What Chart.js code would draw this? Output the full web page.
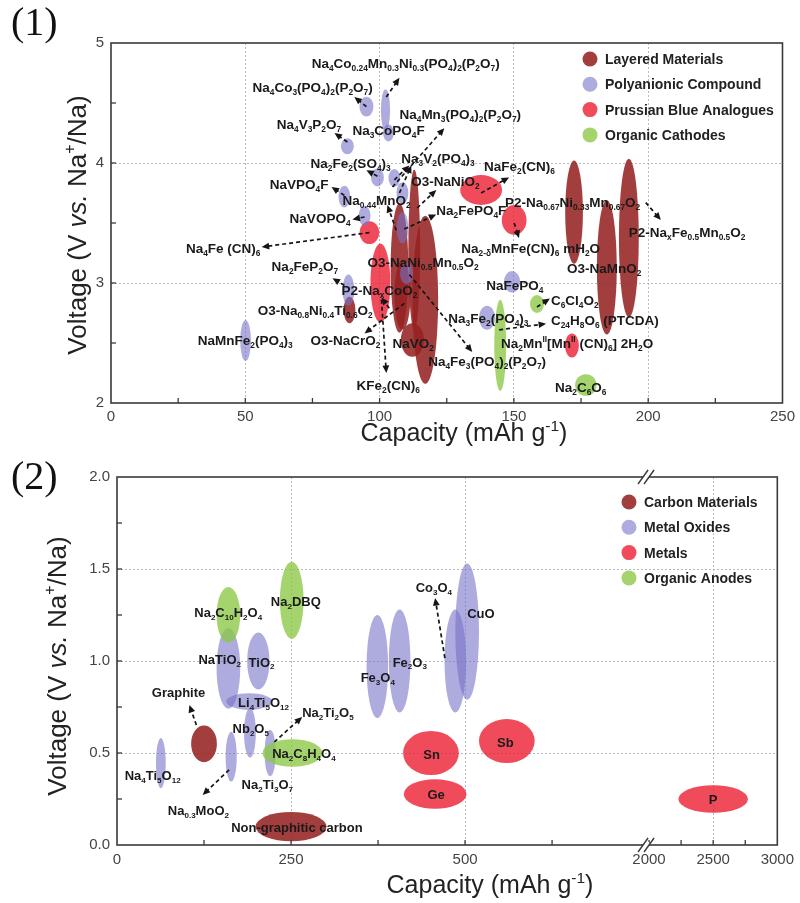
<!DOCTYPE html>
<html>
<head>
<meta charset="utf-8">
<title>Sodium-ion electrode materials: voltage vs capacity</title>
<script src="https://cdn.jsdelivr.net/npm/chart.js@4.4.1/dist/chart.umd.min.js"></script>
<style>
  html,body{margin:0;padding:0;background:#fff;}
  body{width:800px;height:903px;position:relative;overflow:hidden;}
  .panel{position:absolute;left:0;width:800px;}
  .tag{position:absolute;left:11px;font-family:"Liberation Serif","DejaVu Serif",serif;font-size:40px;line-height:1;color:#111;}
</style>
</head>
<body>
<div class="panel" style="top:0;height:450px"><canvas id="c1" width="800" height="450"></canvas></div>
<div class="panel" style="top:450px;height:453px"><canvas id="c2" width="800" height="453"></canvas></div>
<div class="tag" style="top:2px">(1)</div>
<div class="tag" style="top:456px">(2)</div>
<script>
const FONT = '"Liberation Sans", Arial, Helvetica, sans-serif';

// ================= Panel (1): cathodes =================
const cathodeSeriesNames = ['Layered Materials', 'Polyanionic Compound', 'Prussian Blue Analogues', 'Organic Cathodes'];

const layeredNames = ['O3-NaNiO2', 'P2-NaxCoO2', 'O3-NaNi0.5Mn0.5O2', 'O3-Na0.8Ni0.4Ti0.6O2', 'O3-NaCrO2', 'NaVO2', 'P2-Na0.67Ni0.33Mn0.67O2', 'O3-NaMnO2', 'P2-NaxFe0.5Mn0.5O2'];
const layeredCapacity   = [112.9, 107.4, 117.0, 88.8, 108.5, 112.2, 172.4, 184.6, 192.8];
const layeredVoltage    = [3.275, 3.125, 2.86, 2.775, 2.90, 2.525, 3.59, 3.13, 3.375];
const layeredCapSpread  = [2.2, 3.3, 4.8, 2.2, 3.0, 4.3, 3.3, 3.7, 3.7];
const layeredVoltSpread = [0.67, 0.54, 0.70, 0.11, 0.29, 0.14, 0.43, 0.56, 0.66];

const polyNames = ['Na4Co3(PO4)2(P2O7)', 'Na4Co0.24Mn0.3Ni0.3(PO4)2(P2O7)', 'Na3CoPO4F', 'Na4V3P2O7', 'Na2Fe2(SO4)3', 'Na3V2(PO4)3', 'Na4Mn3(PO4)2(P2O7)', 'NaVPO4F', 'NaVOPO4', 'Na2FePO4F', 'Na4Fe3(PO4)2(P2O7)', 'Na2FeP2O7', 'NaMnFe2(PO4)3', 'NaFePO4', 'Na3Fe2(PO4)3'];
const polyCapacity   = [95.1, 102.2, 103.3, 88.0, 99.2, 105.5, 108.5, 86.9, 94.4, 108.5, 110.0, 88.4, 50.1, 149.3, 140.0];
const polyVoltage    = [4.47, 4.44, 4.25, 4.14, 3.88, 3.875, 3.75, 3.72, 3.56, 3.46, 3.08, 2.94, 2.52, 3.01, 2.71];
const polyCapSpread  = [2.6, 1.7, 2.0, 2.4, 2.4, 2.2, 2.2, 2.2, 2.2, 2.2, 2.4, 2.2, 2.0, 3.0, 3.0];
const polyVoltSpread = [0.083, 0.175, 0.07, 0.067, 0.075, 0.075, 0.09, 0.09, 0.083, 0.13, 0.09, 0.13, 0.17, 0.09, 0.10];

const prussianNames = ['NaFe2(CN)6', 'Na2-dMnFe(CN)6 mH2O', 'Na4Fe(CN)6', 'KFe2(CN)6', 'Na2MnII[MnII(CN)6] 2H2O'];
const prussianCapacity   = [137.8, 150.1, 96.2, 100.3, 171.6];
const prussianVoltage    = [3.775, 3.525, 3.42, 3.0, 2.48];
const prussianCapSpread  = [7.8, 4.6, 3.7, 3.7, 2.6];
const prussianVoltSpread = [0.125, 0.125, 0.095, 0.33, 0.10];

const organicCathNames = ['C6Cl4O2', 'C24H8O6 (PTCDA)', 'Na2C6O6'];
const organicCathCapacity   = [158.6, 144.9, 176.8];
const organicCathVoltage    = [2.825, 2.48, 2.15];
const organicCathCapSpread  = [2.6, 2.2, 4.0];
const organicCathVoltSpread = [0.075, 0.38, 0.09];

const cathodeXTicks = [0, 50, 100, 150, 200, 250];
const cathodeYTicks = [2, 3, 4, 5];

// annotation text (markup: _{sub} ^{sup}) with anchor in data units [capacity, voltage]
const cathodeLabels = [
  ['Na_{4}Co_{0.24}Mn_{0.3}Ni_{0.3}(PO_{4})_{2}(P_{2}O_{7})', 74.7, 4.83],
  ['Na_{4}Co_{3}(PO_{4})_{2}(P_{2}O_{7})', 52.7, 4.63],
  ['Na_{4}Mn_{3}(PO_{4})_{2}(P_{2}O_{7})', 107.4, 4.41],
  ['Na_{4}V_{3}P_{2}O_{7}', 61.7, 4.32],
  ['Na_{3}CoPO_{4}F', 89.9, 4.27],
  ['Na_{2}Fe_{2}(SO_{4})_{3}', 74.3, 4.0],
  ['Na_{3}V_{2}(PO_{4})_{3}', 108.1, 4.04],
  ['NaFe_{2}(CN)_{6}', 138.9, 3.97],
  ['NaVPO_{4}F', 59.1, 3.82],
  ['O3-NaNiO_{2}', 111.8, 3.85],
  ['Na_{0.44}MnO_{2}', 86.2, 3.69],
  ['Na_{2}FePO_{4}F', 121.1, 3.61],
  ['P2-Na_{0.67}Ni_{0.33}Mn_{0.67}O_{2}', 146.7, 3.67],
  ['NaVOPO_{4}', 66.5, 3.54],
  ['Na_{4}Fe (CN)_{6}', 27.9, 3.29],
  ['P2-Na_{x}Fe_{0.5}Mn_{0.5}O_{2}', 192.8, 3.42],
  ['Na_{2-δ}MnFe(CN)_{6} mH_{2}O', 130.4, 3.29],
  ['O3-NaNi_{0.5}Mn_{0.5}O_{2}', 95.5, 3.17],
  ['O3-NaMnO_{2}', 169.8, 3.125],
  ['Na_{2}FeP_{2}O_{7}', 59.8, 3.14],
  ['P2-Na_{x}CoO_{2}', 85.8, 2.94],
  ['NaFePO_{4}', 139.7, 2.98],
  ['C_{6}Cl_{4}O_{2}', 163.8, 2.86],
  ['O3-Na_{0.8}Ni_{0.4}Ti_{0.6}O_{2}', 54.6, 2.77],
  ['C_{24}H_{8}O_{6} (PTCDA)', 163.8, 2.69],
  ['Na_{3}Fe_{2}(PO_{4})_{3}', 125.6, 2.71],
  ['O3-NaCrO_{2}', 74.3, 2.52],
  ['NaVO_{2}', 104.8, 2.50],
  ['Na_{2}Mn^{II}[Mn^{II} (CN)_{6}] 2H_{2}O', 145.2, 2.50],
  ['NaMnFe_{2}(PO_{4})_{3}', 32.3, 2.52],
  ['Na_{4}Fe_{3}(PO_{4})_{2}(P_{2}O_{7})', 118.1, 2.35],
  ['KFe_{2}(CN)_{6}', 91.4, 2.15],
  ['Na_{2}C_{6}O_{6}', 165.3, 2.13]
];
// dashed pointer arrows [fromCap, fromV, toCap, toV]
const cathodeArrows = [
  [95.1, 4.47, 90.6, 4.55], [102.5, 4.55, 107.4, 4.71], [88.0, 4.175, 83.2, 4.25],
  [104.8, 3.80, 124.1, 4.29], [99.2, 3.89, 95.1, 3.94], [105.5, 3.86, 111.1, 3.98],
  [107.4, 3.75, 111.8, 3.98], [86.9, 3.73, 82.1, 3.80], [114.0, 3.625, 121.1, 3.775],
  [106.2, 3.44, 102.9, 3.65], [109.2, 3.45, 121.1, 3.57], [137.8, 3.75, 148.2, 3.88],
  [94.4, 3.55, 89.9, 3.53], [96.2, 3.42, 56.1, 3.30], [150.1, 3.50, 151.9, 3.375],
  [199.1, 3.67, 204.7, 3.525], [86.9, 2.98, 82.5, 3.04], [103.6, 2.79, 100.7, 2.88],
  [109.2, 2.83, 94.4, 2.58], [100.7, 2.86, 102.5, 2.25], [111.1, 3.07, 134.5, 2.425],
  [158.6, 2.80, 163.4, 2.87], [144.5, 2.61, 162.0, 2.66]
];

// ================= Panel (2): anodes =================
const anodeSeriesNames = ['Carbon Materials', 'Metal Oxides', 'Metals', 'Organic Anodes'];

const carbonNames = ['Graphite', 'Non-graphitic carbon'];
const carbonCapacity   = [125, 250];
const carbonVoltage    = [0.55, 0.10];
const carbonCapSpread  = [18.5, 51];
const carbonVoltSpread = [0.10, 0.08];

const oxideNames = ['Na4Ti5O12', 'NaTiO2', 'TiO2', 'Li4Ti5O12', 'Nb2O5', 'Na0.3MoO2', 'Na2Ti3O7', 'Fe3O4', 'Fe2O3', 'Co3O4', 'CuO'];
const oxideCapacity   = [63, 160, 203, 190, 191, 164, 220, 374, 406, 486, 503];
const oxideVoltage    = [0.445, 0.96, 1.0, 0.78, 0.61, 0.48, 0.50, 0.97, 1.0, 1.0, 1.16];
const oxideCapSpread  = [7, 17, 16, 33, 8.5, 8, 8, 15.5, 15.5, 15.5, 17];
const oxideVoltSpread = [0.136, 0.22, 0.155, 0.045, 0.135, 0.135, 0.127, 0.28, 0.28, 0.28, 0.37];

const metalNames = ['Sn', 'Ge', 'Sb', 'P'];
const metalCapacity   = [451, 457, 560, 2500];
const metalVoltage    = [0.50, 0.277, 0.565, 0.25];
const metalCapSpread  = [40, 45, 40, 271];
const metalVoltSpread = [0.12, 0.08, 0.12, 0.075];

const organicAnodeNames = ['Na2C10H2O4', 'Na2DBQ', 'Na2C8H4O4'];
const organicAnodeCapacity   = [160, 251, 252];
const organicAnodeVoltage    = [1.25, 1.33, 0.50];
const organicAnodeCapSpread  = [17, 17, 43];
const organicAnodeVoltSpread = [0.152, 0.21, 0.075];

const anodeXTickValues = [0, 125, 250, 375, 500, 625, 2000, 2250, 2500, 2750, 3000];
const anodeXTickLabels = ['0', '', '250', '', '500', '', '2000', '', '2500', '', '3000'];
const anodeXGridAt     = [250, 500, 2500];

const anodeLabels = [
  ['Na_{2}C_{10}H_{2}O_{4}', 111, 1.266], ['Na_{2}DBQ', 221, 1.326],
  ['NaTiO_{2}', 117, 1.01], ['TiO_{2}', 189, 0.995], ['Graphite', 50, 0.83],
  ['Li_{4}Ti_{5}O_{12}', 174, 0.777], ['Na_{2}Ti_{2}O_{5}', 266, 0.723],
  ['Nb_{2}O_{5}', 166, 0.636], ['Na_{2}C_{8}H_{4}O_{4}', 223, 0.50],
  ['Na_{4}Ti_{5}O_{12}', 11, 0.38], ['Na_{2}Ti_{3}O_{7}', 179, 0.33],
  ['Na_{0.3}MoO_{2}', 73, 0.19], ['Non-graphitic carbon', 164, 0.098],
  ['Co_{3}O_{4}', 429, 1.40], ['CuO', 503, 1.26], ['Fe_{2}O_{3}', 396, 0.995],
  ['Fe_{3}O_{4}', 350, 0.91], ['Sn', 440, 0.495], ['Ge', 446, 0.277],
  ['Sb', 546, 0.56], ['P', 2465, 0.25]
];
const anodeArrows = [
  [114, 0.652, 104, 0.761], [226, 0.56, 266, 0.696],
  [161, 0.408, 123, 0.272], [471, 1.016, 457, 1.342]
];

// ================= helpers =================
// broken capacity axis for panel (2): 0..~760 linear, then 2000..3000 compressed
function anodeAxisU(c) { return c <= 1000 ? c * 0.7 : 535 + (c - 2000) * 0.129; }
function identity(v) { return v; }

function parseRich(str) {
  const segs = []; let buf = ''; let i = 0;
  while (i < str.length) {
    const c = str[i];
    if ((c === '_' || c === '^' || c === '~') && str[i + 1] === '{') {
      if (buf) { segs.push({ t: buf, m: 'n' }); buf = ''; }
      const end = str.indexOf('}', i + 2);
      segs.push({ t: str.slice(i + 2, end), m: c === '_' ? 'sub' : c === '^' ? 'sup' : 'it' });
      i = end + 1;
    } else { buf += c; i++; }
  }
  if (buf) segs.push({ t: buf, m: 'n' });
  return segs;
}
function drawRich(ctx, str, x, y, size, o) {
  o = o || {};
  const weight = o.weight || 'bold', align = o.align || 'left', color = o.color || '#1a1a1a';
  const segs = parseRich(str);
  const fontFor = m => {
    const s = (m === 'sub' || m === 'sup') ? size * 0.62 : size;
    return (m === 'it' ? 'italic ' : '') + weight + ' ' + s.toFixed(2) + 'px ' + FONT;
  };
  let w = 0;
  segs.forEach(sg => { ctx.font = fontFor(sg.m); sg.w = ctx.measureText(sg.t).width; w += sg.w; });
  let cx = align === 'center' ? x - w / 2 : (align === 'right' ? x - w : x);
  ctx.fillStyle = color; ctx.textAlign = 'left'; ctx.textBaseline = 'alphabetic';
  const base = y + size * 0.36;
  segs.forEach(sg => {
    ctx.font = fontFor(sg.m);
    let by = base;
    if (sg.m === 'sub') by = base + size * 0.22;
    if (sg.m === 'sup') by = base - size * 0.42;
    ctx.fillText(sg.t, cx, by);
    cx += sg.w;
  });
  return w;
}
function drawArrow(ctx, x1, y1, x2, y2) {
  const ang = Math.atan2(y2 - y1, x2 - x1), L = 7.5, W = 3.4;
  ctx.save();
  ctx.strokeStyle = '#151515'; ctx.fillStyle = '#151515'; ctx.lineWidth = 1.7;
  ctx.setLineDash([4, 3]);
  ctx.beginPath(); ctx.moveTo(x1, y1);
  ctx.lineTo(x2 - Math.cos(ang) * L * 0.8, y2 - Math.sin(ang) * L * 0.8); ctx.stroke();
  ctx.setLineDash([]);
  const bx = x2 - L * Math.cos(ang), by = y2 - L * Math.sin(ang);
  ctx.beginPath(); ctx.moveTo(x2, y2);
  ctx.lineTo(bx + W * Math.sin(ang), by - W * Math.cos(ang));
  ctx.lineTo(bx - W * Math.sin(ang), by + W * Math.cos(ang));
  ctx.closePath(); ctx.fill();
  ctx.restore();
}

const sketchPlugin = {
  id: 'sketch',
  beforeDatasetsDraw(chart, args, o) {
    const { ctx, chartArea: a } = chart; const xs = chart.scales.x, ys = chart.scales.y;
    ctx.save();
    ctx.beginPath(); ctx.rect(a.left, a.top, a.right - a.left, a.bottom - a.top); ctx.clip();
    o.drawOrder.forEach(di => {
      const ds = chart.data.datasets[di];
      ctx.fillStyle = ds.backgroundColor;
      ds.data.forEach(p => {
        const cx = xs.getPixelForValue(p.x), cy = ys.getPixelForValue(p.y);
        const rx = Math.abs(xs.getPixelForValue(o.mapX(p.cap + p.dCap)) - cx);
        const ry = Math.abs(ys.getPixelForValue(p.y + p.dVolt) - cy);
        ctx.beginPath(); ctx.ellipse(cx, cy, rx, ry, 0, 0, Math.PI * 2); ctx.fill();
      });
    });
    ctx.restore();
  },
  afterDatasetsDraw(chart, args, o) {
    const { ctx } = chart; const xs = chart.scales.x, ys = chart.scales.y;
    const px = c => xs.getPixelForValue(o.mapX(c)), py = v => ys.getPixelForValue(v);
    o.arrows.forEach(r => drawArrow(ctx, px(r[0]), py(r[1]), px(r[2]), py(r[3])));
    o.labels.forEach(l => drawRich(ctx, l[0], px(l[1]), py(l[2]), o.labelSize));
  },
  afterDraw(chart, args, o) {
    const { ctx, chartArea: a } = chart; const xs = chart.scales.x, ys = chart.scales.y;
    ctx.save();
    // inward minor/major tick marks on bottom and left axes
    ctx.strokeStyle = '#3a3a3a'; ctx.lineWidth = 1.3;
    xs.ticks.forEach(t => {
      const p = xs.getPixelForValue(t.value);
      if (p <= a.left + 1 || p >= a.right - 1) return;
      ctx.beginPath(); ctx.moveTo(p, a.bottom); ctx.lineTo(p, a.bottom - 5); ctx.stroke();
    });
    ys.ticks.forEach(t => {
      const p = ys.getPixelForValue(t.value);
      if (p <= a.top + 1 || p >= a.bottom - 1) return;
      ctx.beginPath(); ctx.moveTo(a.left, p); ctx.lineTo(a.left + 5, p); ctx.stroke();
    });
    // frame
    ctx.strokeStyle = '#3a3a3a'; ctx.lineWidth = 1.6;
    ctx.strokeRect(a.left, a.top, a.right - a.left, a.bottom - a.top);
    // axis break
    if (o.breakU !== undefined) {
      const bx = xs.getPixelForValue(o.breakU);
      [a.top, a.bottom].forEach(yy => {
        ctx.fillStyle = '#fff'; ctx.fillRect(bx - 3, yy - 3, 6, 6);
        ctx.strokeStyle = '#3a3a3a'; ctx.lineWidth = 1.4;
        [-3, 3].forEach(dx => {
          ctx.beginPath(); ctx.moveTo(bx + dx - 5, yy + 7); ctx.lineTo(bx + dx + 5, yy - 7); ctx.stroke();
        });
      });
    }
    // legend (inside plot, top-right)
    const lg = o.legend;
    lg.order.forEach((di, k) => {
      const ds = chart.data.datasets[di];
      const yy = lg.y + k * lg.dy;
      ctx.fillStyle = ds.backgroundColor;
      ctx.beginPath(); ctx.arc(lg.x, yy, 7.5, 0, Math.PI * 2); ctx.fill();
      drawRich(ctx, ds.label, lg.x + 15, yy, 14, { color: '#222' });
    });
    // axis titles
    drawRich(ctx, 'Capacity (mAh g^{-1})', o.xTitle[0], o.xTitle[1], 25, { weight: 'normal', align: 'center', color: '#222' });
    ctx.save();
    ctx.translate(o.yTitle[0], o.yTitle[1]); ctx.rotate(-Math.PI / 2);
    drawRich(ctx, 'Voltage (V ~{vs.} Na^{+}/Na)', 0, 0, 26, { weight: 'normal', align: 'center', color: '#222' });
    ctx.restore();
    ctx.restore();
  }
};

function buildDataset(label, color, cap, volt, dCap, dVolt, mapX) {
  return {
    label, backgroundColor: color, borderColor: color, pointRadius: 0, pointHoverRadius: 0, showLine: false,
    data: cap.map((c, i) => ({ x: mapX(c), y: volt[i], cap: c, dCap: dCap[i], dVolt: dVolt[i] }))
  };
}

const COL_DARKRED = 'rgba(150,35,35,0.88)';
const COL_PURPLE  = 'rgba(120,115,200,0.6)';
const COL_RED     = 'rgba(236,30,50,0.8)';
const COL_GREEN   = 'rgba(140,200,70,0.78)';
const tickFont = { family: FONT, size: 15 };

// ---------- chart 1 ----------
new Chart(document.getElementById('c1'), {
  type: 'scatter',
  data: {
    datasets: [
      buildDataset(cathodeSeriesNames[0], COL_DARKRED, layeredCapacity, layeredVoltage, layeredCapSpread, layeredVoltSpread, identity),
      buildDataset(cathodeSeriesNames[1], COL_PURPLE, polyCapacity, polyVoltage, polyCapSpread, polyVoltSpread, identity),
      buildDataset(cathodeSeriesNames[2], COL_RED, prussianCapacity, prussianVoltage, prussianCapSpread, prussianVoltSpread, identity),
      buildDataset(cathodeSeriesNames[3], COL_GREEN, organicCathCapacity, organicCathVoltage, organicCathCapSpread, organicCathVoltSpread, identity)
    ]
  },
  options: {
    responsive: false, animation: false, devicePixelRatio: 1, events: [],
    layout: { padding: { left: 0, right: 16, top: 43, bottom: 0 } },
    plugins: {
      legend: { display: false }, tooltip: { enabled: false },
      sketch: {
        mapX: identity, drawOrder: [2, 0, 1, 3], labels: cathodeLabels, arrows: cathodeArrows, labelSize: 13.5,
        legend: { x: 590, y: 59, dy: 25.3, order: [0, 1, 2, 3] },
        xTitle: [464, 432], yTitle: [77, 225]
      }
    },
    scales: {
      x: {
        type: 'linear', min: 0, max: 250,
        afterFit: s => { s.height = 47; },
        ticks: { stepSize: 25, autoSkip: false, maxRotation: 0, padding: 5, color: '#444', font: tickFont,
          callback: v => cathodeXTicks.includes(v) ? String(v) : '' },
        grid: { drawTicks: false, lineWidth: 1,
          color: c => (c.tick && cathodeXTicks.includes(c.tick.value) && c.tick.value > 0 && c.tick.value < 250) ? '#b8b8b8' : 'rgba(0,0,0,0)' },
        border: { display: false, dash: [2, 2] }
      },
      y: {
        type: 'linear', min: 2, max: 5,
        afterFit: s => { s.width = 111; },
        ticks: { stepSize: 0.5, autoSkip: false, padding: 7, color: '#444', font: tickFont,
          callback: v => cathodeYTicks.includes(v) ? String(v) : '' },
        grid: { drawTicks: false, lineWidth: 1,
          color: c => (c.tick && (c.tick.value === 3 || c.tick.value === 4)) ? '#b8b8b8' : 'rgba(0,0,0,0)' },
        border: { display: false, dash: [2, 2] }
      }
    }
  },
  plugins: [sketchPlugin]
});

// ---------- chart 2 ----------
new Chart(document.getElementById('c2'), {
  type: 'scatter',
  data: {
    datasets: [
      buildDataset(anodeSeriesNames[0], COL_DARKRED, carbonCapacity, carbonVoltage, carbonCapSpread, carbonVoltSpread, anodeAxisU),
      buildDataset(anodeSeriesNames[1], COL_PURPLE, oxideCapacity, oxideVoltage, oxideCapSpread, oxideVoltSpread, anodeAxisU),
      buildDataset(anodeSeriesNames[2], COL_RED, metalCapacity, metalVoltage, metalCapSpread, metalVoltSpread, anodeAxisU),
      buildDataset(anodeSeriesNames[3], COL_GREEN, organicAnodeCapacity, organicAnodeVoltage, organicAnodeCapSpread, organicAnodeVoltSpread, anodeAxisU)
    ]
  },
  options: {
    responsive: false, animation: false, devicePixelRatio: 1, events: [],
    layout: { padding: { left: 0, right: 19, top: 27, bottom: 0 } },
    plugins: {
      legend: { display: false }, tooltip: { enabled: false },
      sketch: {
        mapX: anodeAxisU, drawOrder: [1, 0, 2, 3], labels: anodeLabels, arrows: anodeArrows, labelSize: 13,
        legend: { x: 629, y: 52, dy: 25.3, order: [0, 1, 2, 3] },
        breakU: 532,
        xTitle: [490, 434], yTitle: [57, 216]
      }
    },
    scales: {
      x: {
        type: 'linear', min: 0, max: anodeAxisU(3000),
        afterFit: s => { s.height = 58; },
        afterBuildTicks: s => { s.ticks = anodeXTickValues.map(v => ({ value: anodeAxisU(v) })); },
        ticks: { autoSkip: false, maxRotation: 0, padding: 6, color: '#444', font: tickFont,
          callback: (v, i) => anodeXTickLabels[i] },
        grid: { drawTicks: false, lineWidth: 1,
          color: c => (c.tick && anodeXGridAt.some(g => Math.abs(anodeAxisU(g) - c.tick.value) < 0.01)) ? '#b8b8b8' : 'rgba(0,0,0,0)' },
        border: { display: false, dash: [2, 2] }
      },
      y: {
        type: 'linear', min: 0, max: 2,
        afterFit: s => { s.width = 117; },
        ticks: { stepSize: 0.25, autoSkip: false, padding: 7, color: '#444', font: tickFont,
          callback: v => (Math.abs(v * 2 - Math.round(v * 2)) < 1e-9) ? v.toFixed(1) : '' },
        grid: { drawTicks: false, lineWidth: 1,
          color: c => (c.tick && c.tick.value > 0.1 && c.tick.value < 1.9 && Math.abs(c.tick.value * 2 - Math.round(c.tick.value * 2)) < 1e-9) ? '#b8b8b8' : 'rgba(0,0,0,0)' },
        border: { display: false, dash: [2, 2] }
      }
    }
  },
  plugins: [sketchPlugin]
});
</script>
</body>
</html>
